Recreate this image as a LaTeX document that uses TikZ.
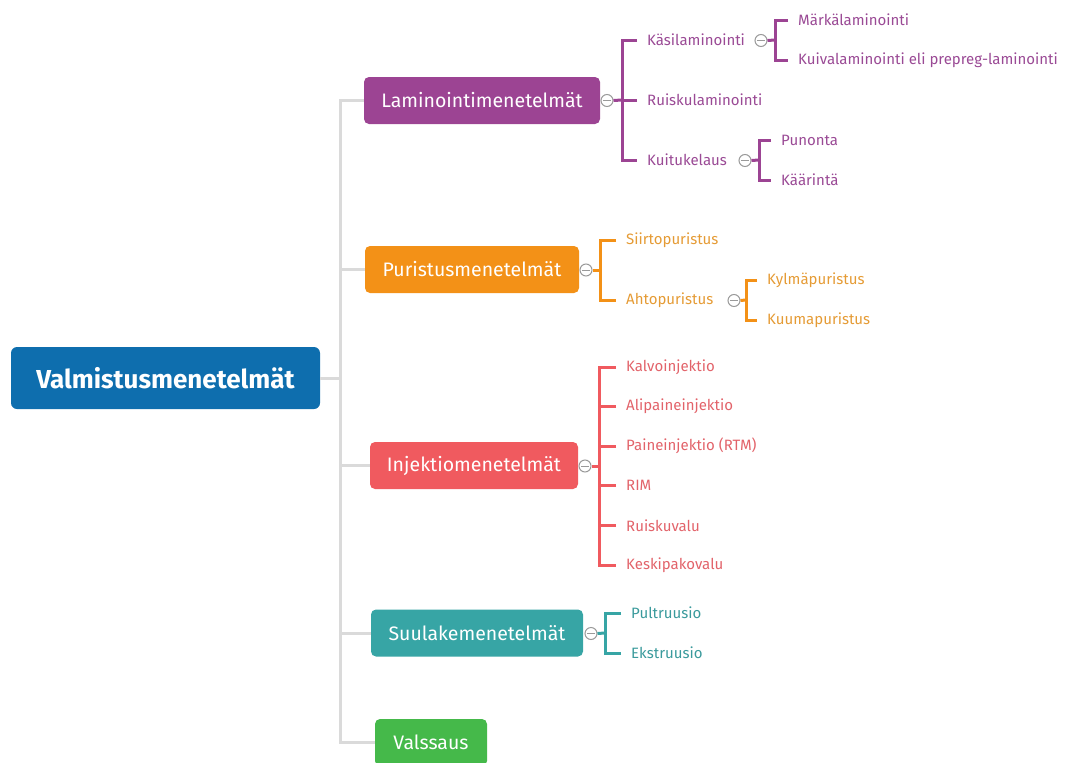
\documentclass[tikz,border=0pt]{standalone}
\usepackage{fontspec}
\setmainfont{Fira Sans}
\definecolor{rootblue}{HTML}{0E6EAE}
\definecolor{lampurple}{HTML}{9C4493}
\definecolor{lamleaf}{HTML}{9A4A95}
\definecolor{purorange}{HTML}{F39117}
\definecolor{purleaf}{HTML}{E59B35}
\definecolor{injred}{HTML}{F05A5F}
\definecolor{injleaf}{HTML}{E2636A}
\definecolor{suuteal}{HTML}{37A5A5}
\definecolor{suuleaf}{HTML}{3A9A9C}
\definecolor{valgreen}{HTML}{45B94A}
\definecolor{linegray}{HTML}{DADADA}
\definecolor{toggray}{HTML}{9A9A9A}
\tikzset{
  rootbox/.style={fill=rootblue, rounded corners=6pt, text=white, font=\fontsize{26}{30}\selectfont\bfseries, minimum width=309pt, minimum height=62pt, inner sep=0pt},
  topicbox/.style={rounded corners=5pt, text=white, font=\fontsize{19.5}{23}\selectfont, minimum height=47pt, inner sep=0pt},
  leaf/.style={anchor=west, inner xsep=10pt, inner ysep=2pt, font=\fontsize{15}{18}\selectfont},
  tog/.style={circle, draw=toggray, fill=white, minimum size=12pt, inner sep=0pt, line width=1pt,
    path picture={\draw[toggray, line width=1pt] ([xshift=-4pt]path picture bounding box.center) -- ([xshift=4pt]path picture bounding box.center);}},
  trunk/.style={draw=linegray, line width=3pt},
  br/.style={line width=3pt}
}
\begin{document}
\begin{tikzpicture}[x=1pt,y=-1pt]
\useasboundingbox (0,0) rectangle (1069,763);
% root and trunk
\node[rootbox] (root) at (165.5,378) {Valmistusmenetelmät};
\coordinate (tr) at (340,378);
\node[topicbox, fill=lampurple, minimum width=236pt] (lam) at (482,100.5) {Laminointimenetelmät};
\node[topicbox, fill=purorange, minimum width=214pt] (pur) at (472,269.5) {Puristusmenetelmät};
\node[topicbox, fill=injred, minimum width=208pt] (inj) at (474,465.5) {Injektiomenetelmät};
\node[topicbox, fill=suuteal, minimum width=212pt] (suu) at (477,633) {Suulakemenetelmät};
\node[topicbox, fill=valgreen, minimum width=112pt] (val) at (431,742.5) {Valssaus};
\draw[trunk] (root.east) -- (tr);
\draw[trunk] (lam.west) -| (tr) |- (val.west);
\draw[trunk] (pur.west) -- (pur.west -| tr);
\draw[trunk] (inj.west) -- (inj.west -| tr);
\draw[trunk] (suu.west) -- (suu.west -| tr);
% ---------- Laminointi
\node[leaf, text=lamleaf] (k1) at (637,40) {Käsilaminointi};
\node[leaf, text=lamleaf] (k2) at (637,100) {Ruiskulaminointi};
\node[leaf, text=lamleaf] (k3) at (637,160) {Kuitukelaus};
\node[tog] (t1) at (607,100.5) {};
\draw[br, lampurple] (t1.east) -- (622,100);
\draw[br, lampurple] (k1.west) -- ++(-15,0) |- (k3.west);
\draw[br, lampurple] (k2.west) -- ++(-15,0);
\node[leaf, text=lamleaf] (m1) at (788,20) {Märkälaminointi};
\node[leaf, text=lamleaf] (m2) at (788,60) {Kuivalaminointi eli prepreg-laminointi};
\node[tog] (t2) at (761,40.5) {};
\draw[br, lampurple] (t2.east) -- (775,40);
\draw[br, lampurple] (m1.west) -- ++(-13,0) |- (m2.west);
\node[leaf, text=lamleaf] (p1) at (771,140) {Punonta};
\node[leaf, text=lamleaf] (p2) at (771,180) {Käärintä};
\node[tog] (t3) at (745,160.5) {};
\draw[br, lampurple] (t3.east) -- (759,160);
\draw[br, lampurple] (p1.west) -- ++(-12,0) |- (p2.west);
% ---------- Puristus
\node[leaf, text=purleaf] (s1) at (616,240) {Siirtopuristus};
\node[leaf, text=purleaf] (s2) at (616,300) {Ahtopuristus};
\node[tog] (t4) at (586,270) {};
\draw[br, purorange] (t4.east) -- (600,270);
\draw[br, purorange] (s1.west) -- ++(-16,0) |- (s2.west);
\node[leaf, text=purleaf] (a1) at (757,280) {Kylmäpuristus};
\node[leaf, text=purleaf] (a2) at (757,320) {Kuumapuristus};
\node[tog] (t5) at (734,300.5) {};
\draw[br, purorange] (t5.east) -- (746,300);
\draw[br, purorange] (a1.west) -- ++(-11,0) |- (a2.west);
% ---------- Injektio
\node[leaf, text=injleaf] (i1) at (616,367) {Kalvoinjektio};
\node[leaf, text=injleaf] (i2) at (616,406.6) {Alipaineinjektio};
\node[leaf, text=injleaf] (i3) at (616,446.2) {Paineinjektio (RTM)};
\node[leaf, text=injleaf] (i4) at (616,485.8) {RIM};
\node[leaf, text=injleaf] (i5) at (616,525.4) {Ruiskuvalu};
\node[leaf, text=injleaf] (i6) at (616,565) {Keskipakovalu};
\node[tog] (t6) at (585,466) {};
\draw[br, injred] (t6.east) -- (599,466);
\draw[br, injred] (i1.west) -- ++(-17,0) |- (i6.west);
\foreach \n in {i2,i3,i4,i5} \draw[br, injred] (\n.west) -- ++(-17,0);
% ---------- Suulake
\node[leaf, text=suuleaf] (u1) at (621,613) {Pultruusio};
\node[leaf, text=suuleaf] (u2) at (621,653) {Ekstruusio};
\node[tog] (t7) at (591,633.5) {};
\draw[br, suuteal] (t7.east) -- (605,633);
\draw[br, suuteal] (u1.west) -- ++(-16,0) |- (u2.west);
\end{tikzpicture}
\end{document}
